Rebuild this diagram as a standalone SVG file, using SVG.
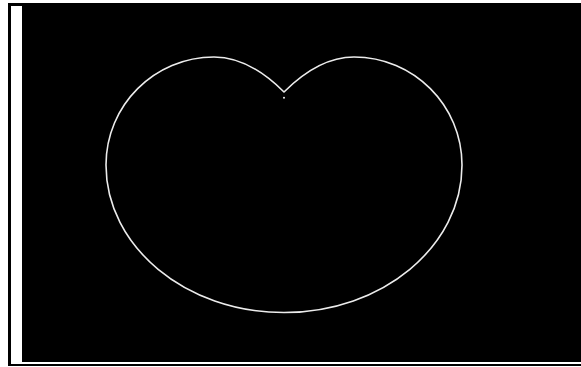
<svg xmlns="http://www.w3.org/2000/svg" width="581" height="367" viewBox="0 0 581 367">
<style>
.curve{fill:none;stroke:#ececec;stroke-width:1.6;stroke-linejoin:round}
</style>
<rect x="0" y="0" width="581" height="367" fill="#ffffff"/>
<g id="frame">
<rect x="8" y="3" width="573" height="363" fill="#000000"/>
<rect x="11" y="6" width="570" height="358" fill="#ffffff"/>
<rect x="22" y="3" width="559" height="359" fill="#000000"/>
</g>
<g id="cardioid">
<path class="curve" d="M284,92 C300,76 325,57 354,57 C413.6,57 462,105.4 462,165 C462,246.4 382.3,312.5 284,312.5 C185.7,312.5 106,246.4 106,165 C106,105.4 154.4,57 214,57 C243,57 268,76 284,92 Z"/>
<circle cx="284" cy="97.7" r="1" fill="#ececec"/>
</g>
</svg>
